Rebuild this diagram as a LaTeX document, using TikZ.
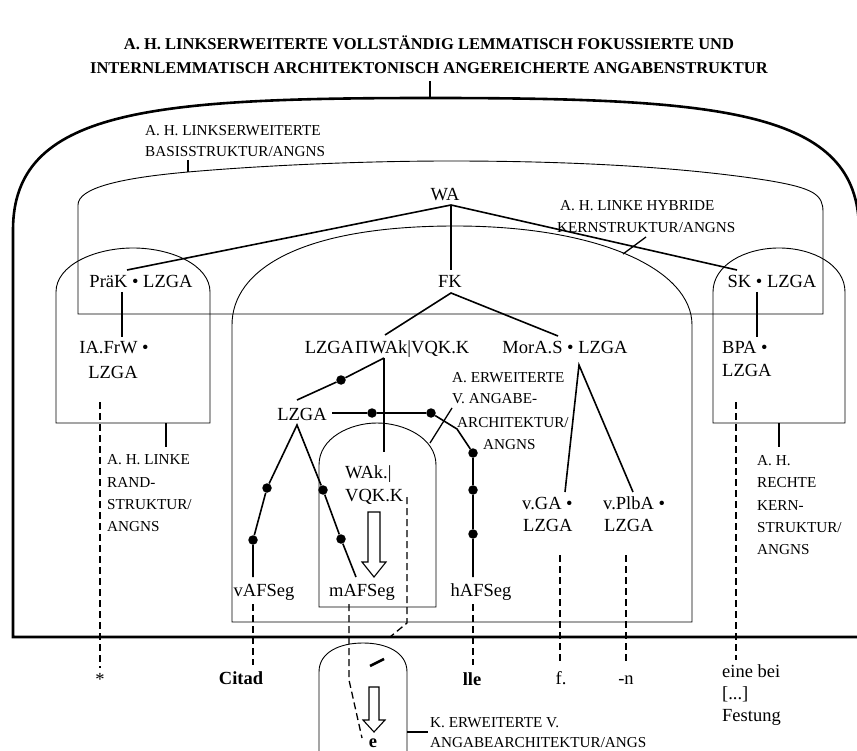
\documentclass[tikz,border=0pt]{standalone}
\usepackage{fontspec}
\setmainfont{Liberation Serif}
\begin{document}
\begin{tikzpicture}[x=1pt,y=-1pt,
  big/.style={font=\fontsize{18.5}{22}\selectfont, inner sep=0pt},
  sm/.style={font=\fontsize{15.2}{20}\selectfont, inner sep=0pt},
  ttl/.style={font=\fontsize{16.5}{24}\selectfont\bfseries, inner sep=0pt},
  bld/.style={font=\fontsize{18.5}{22}\selectfont\bfseries, inner sep=0pt},
  outer/.style={line width=2.6pt},
  frame/.style={line width=0.9pt},
  tree/.style={line width=1.6pt},
  tick/.style={line width=1.3pt},
  dline/.style={line width=1.3pt, dash pattern=on 7pt off 4pt},
  dotn/.style={circle, fill=black, inner sep=0pt, minimum size=9.5pt},
]
\useasboundingbox (0,0) rectangle (857,751);

% title
\node[ttl, anchor=base] (t1) at (429,50) {A. H. LINKSERWEITERTE VOLLSTÄNDIG LEMMATISCH FOKUSSIERTE UND};
\node[ttl, anchor=base] (t2) at (429,74) {INTERNLEMMATISCH ARCHITEKTONISCH ANGEREICHERTE ANGABENSTRUKTUR};
\coordinate (ttick) at (430,81);
\coordinate (outTop) at (430,98);
\draw[line width=2.4pt] (ttick) -- (outTop);

% outer structure
\draw[outer] (870,637) -- (13,637) -- (13,230) .. controls (13,110) and (150,98) .. (outTop)
  .. controls (722,98) and (859,110) .. (859,230) -- (859,637);

% basis structure
\draw[frame] (78,314) -- (78,205) .. controls (78,188) and (120,178) .. (188,172)
  .. controls (280,164) and (380,161) .. (450,161)
  .. controls (600,161) and (700,170) .. (765,180)
  .. controls (815,188) and (823,195) .. (823,212) -- (823,314) -- cycle;
% left rand structure
\draw[frame] (56,423) -- (56,292) .. controls (56,265) and (95,248) .. (133,248)
  .. controls (171,248) and (210,265) .. (210,292) -- (210,423) -- cycle;
% right kern structure
\draw[frame] (713,423) -- (713,292) .. controls (713,265) and (745,248) .. (779,248)
  .. controls (813,248) and (845,265) .. (845,292) -- (845,423) -- cycle;
% linke hybride kernstruktur
\draw[frame] (232,622) -- (232,325) .. controls (232,270) and (300,226) .. (455,226)
  .. controls (600,226) and (692,270) .. (692,325) -- (692,622) -- cycle;
% erweiterte angabearchitektur
\draw[frame] (319,607) -- (319,465) .. controls (319,438) and (350,423) .. (377,423)
  .. controls (404,423) and (436,438) .. (436,465) -- (436,607) -- cycle;
% lower arch
\draw[frame] (319,760) -- (319,672) .. controls (319,652) and (340,643) .. (363,643)
  .. controls (386,643) and (407,652) .. (407,672) -- (407,760);

% hollow arrows
\draw[line width=1.1pt] (368,512) -- (380,512) -- (380,562) -- (386,562) -- (374,577) -- (362,562) -- (368,562) -- cycle;
\draw[line width=1.1pt] (369,687) -- (379,687) -- (379,720) -- (385,720) -- (374,732) -- (363,720) -- (369,720) -- cycle;

% small labels
\node[sm, anchor=base west] (basA) at (145,136) {A. H. LINKSERWEITERTE};
\node[sm, anchor=base west] (basB) at (145,157) {BASISSTRUKTUR/ANGNS};
\node[sm, anchor=base west] (hybA) at (560,211) {A. H. LINKE HYBRIDE};
\node[sm, anchor=base west] (hybB) at (557,233) {KERNSTRUKTUR/ANGNS};
\node[sm, anchor=base west] (erwA) at (452,382) {A. ERWEITERTE};
\node[sm, anchor=base west] (erwB) at (452,403) {V. ANGABE-};
\node[sm, anchor=base west] (erwC) at (457,427) {ARCHITEKTUR/};
\node[sm, anchor=base west] (erwD) at (483,449) {ANGNS};
\node[sm, anchor=base west] (randA) at (107,464) {A. H. LINKE};
\node[sm, anchor=base west] (randB) at (107,487) {RAND-};
\node[sm, anchor=base west] (randC) at (107,509) {STRUKTUR/};
\node[sm, anchor=base west] (randD) at (107,531) {ANGNS};
\node[sm, anchor=base west] (rechA) at (757,465) {A. H.};
\node[sm, anchor=base west] (rechB) at (757,487) {RECHTE};
\node[sm, anchor=base west] (rechC) at (757,510) {KERN-};
\node[sm, anchor=base west] (rechD) at (757,532) {STRUKTUR/};
\node[sm, anchor=base west] (rechE) at (757,554) {ANGNS};
\node[sm, anchor=base west] (kA) at (430,727) {K. ERWEITERTE V.};
\node[sm, anchor=base west] (kB) at (430,747.5) {ANGABEARCHITEKTUR/ANGS};

% label ticks
\draw[tick] (188,160) -- (188,172);
\draw[tick] (646,237) -- (623,254);
\draw[tick] (166,423) -- (166,447);
\draw[tick] (779,423) -- (779,447);
\draw[tick] (452,408) -- (430,443);
\draw[tick] (407,732) -- (428,732);

% main labels
\node[big, anchor=base] (wa) at (445,201) {WA};
\node[big, anchor=base] (prak) at (141,288) {PräK • LZGA};
\node[big, anchor=base] (fk) at (450,288) {FK};
\node[big, anchor=base] (sk) at (772,288) {SK • LZGA};
\node[big, anchor=base] (ia1) at (114,354) {IA.FrW •};
\node[big, anchor=base] (ia2) at (113,378) {LZGA};
\node[big, anchor=base west] (bpa1) at (722,353) {BPA •};
\node[big, anchor=base west] (bpa2) at (722,377) {LZGA};
\node[big, anchor=base] (lzw) at (387,354) {LZGA\kern1ptΠ\kern1ptWAk|VQK.K};
\node[big, anchor=base] (mor) at (565,354) {MorA.S • LZGA};
\node[big, anchor=base] (lz2) at (302,420) {LZGA};
\node[big, anchor=base west] (wak1) at (345,478) {WAk.|};
\node[big, anchor=base west] (wak2) at (345,501) {VQK.K};
\node[big, anchor=base west] (vga1) at (522,509) {v.GA •};
\node[big, anchor=base west] (vga2) at (523,531) {LZGA};
\node[big, anchor=base west] (vpl1) at (603,509) {v.PlbA •};
\node[big, anchor=base west] (vpl2) at (604,531) {LZGA};
\node[big, anchor=base] (vaf) at (264,596) {vAFSeg};
\node[big, anchor=base] (maf) at (362,596) {mAFSeg};
\node[big, anchor=base] (haf) at (481,596) {hAFSeg};
\node[big, anchor=base] (star) at (100,685) {*};
\node[bld, anchor=base] (citad) at (241,684) {Citad};
\node[bld, anchor=base] (lle) at (472,685) {lle};
\node[big, anchor=base] (fdot) at (561,684) {f.};
\node[big, anchor=base] (nn) at (626,684) {-n};
\node[big, anchor=base west] (eb1) at (722,677) {eine bei};
\node[big, anchor=base west] (eb2) at (722,699) {[...]};
\node[big, anchor=base west] (eb3) at (722,721) {Festung};
\node[bld, anchor=base] (ee) at (373,747) {e};

% junction coordinates
\coordinate (wab) at (451,205);
\coordinate (fkt) at (451,270);
\coordinate (fkb) at (451,293);
\coordinate (prakT) at (127,270);
\coordinate (skT) at (737,270);
\coordinate (prakB) at (122,292);
\coordinate (iaT) at (122,337);
\coordinate (skB) at (757,292);
\coordinate (bpaT) at (757,337);
\coordinate (lzwT) at (385,335);
\coordinate (morT) at (558,336);
\coordinate (lzwB) at (384,358);
\coordinate (wakT) at (384,452);
\coordinate (lz2T) at (297,400);
\coordinate (lz2R) at (332,413);
\coordinate (j1) at (457,429);
\coordinate (hafT) at (473,577);
\coordinate (lz2B) at (297,425);
\coordinate (vafT) at (253,577);
\coordinate (mafT) at (356,577);
\coordinate (morB) at (579,365);
\coordinate (vgaT) at (565,492);
\coordinate (vplT) at (633,492);

% dots
\node[dotn] (d1) at (341,380) {};
\node[dotn] (d2) at (372,413) {};
\node[dotn] (d3) at (431,413) {};
\node[dotn] (d4) at (473,453) {};
\node[dotn] (d5) at (473,490) {};
\node[dotn] (d6) at (473,534) {};
\node[dotn] (d7) at (267,488) {};
\node[dotn] (d8) at (253,540) {};
\node[dotn] (d9) at (323,490) {};
\node[dotn] (d10) at (341,539) {};

% tree lines
\draw[tree] (prakT) -- (wab) -- (skT);
\draw[tree] (wab) -- (fkt);
\draw[tree] (lzwT) -- (fkb) -- (morT);
\draw[tree] (prakB) -- (iaT);
\draw[tree] (skB) -- (bpaT);
\draw[tree] (lzwB) -- (wakT);
\draw[tree] (lzwB) -- (d1) -- (lz2T);
\draw[tree] (lz2R) -- (d2) -- (d3) -- (j1) -- (d4) -- (d5) -- (d6) -- (hafT);
\draw[tree] (vafT) -- (d8) -- (d7) -- (lz2B) -- (d9) -- (d10) -- (mafT);
\draw[tree] (vgaT) -- (morB) -- (vplT);

% dashed connectors
\coordinate (iaD) at (100,402);
\coordinate (starT) at (100,668);
\coordinate (vafD) at (253,604);
\coordinate (citT) at (253,665);
\coordinate (mafD) at (349,604);
\coordinate (mk) at (349,680);
\coordinate (eT) at (362,738);
\coordinate (vqD) at (407,497);
\coordinate (vq2) at (407,623);
\coordinate (vq3) at (390,637);
\coordinate (hafD) at (473,604);
\coordinate (lleT) at (473,665);
\coordinate (vgaD) at (560,555);
\coordinate (fT) at (560,663);
\coordinate (vplD) at (626,555);
\coordinate (nT) at (626,663);
\coordinate (bpaD) at (736,402);
\coordinate (ebT) at (736,660);
\draw[dline] (iaD) -- (starT);
\draw[dline] (vafD) -- (citT);
\draw[dline] (mafD) -- (mk) -- (eT);
\draw[dline] (vqD) -- (vq2) -- (vq3);
\draw[dline] (hafD) -- (lleT);
\draw[dline] (vgaD) -- (fT);
\draw[dline] (vplD) -- (nT);
\draw[dline] (bpaD) -- (ebT);

% accent stroke
\coordinate (acc1) at (370,666);
\coordinate (acc2) at (384,659);
\draw[line width=2.6pt] (acc1) -- (acc2);
\end{tikzpicture}
\end{document}
